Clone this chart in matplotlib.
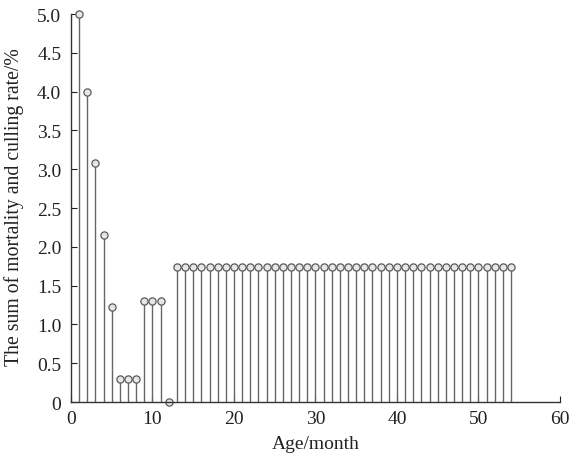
import matplotlib
matplotlib.use("Agg")
import matplotlib.pyplot as plt
import numpy as np

months = list(range(1, 55))
rates = [5.0, 4.0, 3.08, 2.15, 1.23, 0.3, 0.3, 0.3, 1.3, 1.3, 1.3, 0.0] + [1.74] * 42
yticks = [0, 0.5, 1.0, 1.5, 2.0, 2.5, 3.0, 3.5, 4.0, 4.5, 5.0]
ytick_labels = ["0", "0.5", "1.0", "1.5", "2.0", "2.5", "3.0", "3.5", "4.0", "4.5", "5.0"]
xticks = [0, 10, 20, 30, 40, 50, 60]

plt.rcParams['font.family'] = ['Liberation Serif', 'DejaVu Serif']
fig = plt.figure(figsize=(5.69, 4.56), dpi=100)
ax = fig.add_axes([0.1248, 0.1162, 0.984 - 0.1248, 0.967 - 0.1162])

ml, sl, bl = ax.stem(months, rates, basefmt=' ')
plt.setp(sl, color='#666666', linewidth=1.0)
plt.setp(ml, marker='o', markersize=5.2, markerfacecolor='#e6e6e6',
         markeredgecolor='#5a5a5a', markeredgewidth=0.9)
ml.set_clip_on(False)

ax.set_xlim(0, 60)
ax.set_ylim(0, 5.0)
ax.set_xticks(xticks)
ax.set_yticks(yticks)
ax.set_yticklabels(ytick_labels)
for s in ['top', 'right']:
    ax.spines[s].set_visible(False)
for s in ['left', 'bottom']:
    ax.spines[s].set_color('#333333')
    ax.spines[s].set_linewidth(1.0)
ax.tick_params(direction='in', length=4, labelsize=14, colors='#222222')
ax.tick_params(axis='x', pad=6)
ax.tick_params(axis='y', pad=7)
ax.set_xlabel('Age/month', fontsize=14, color='#222222')
ax.set_ylabel('The sum of mortality and culling rate/%', fontsize=14.2, color='#222222')
ax.xaxis.set_label_coords(0.5, -0.085)
ax.yaxis.set_label_coords(-0.097, 0.506)
fig.savefig('out.png', dpi=100)
